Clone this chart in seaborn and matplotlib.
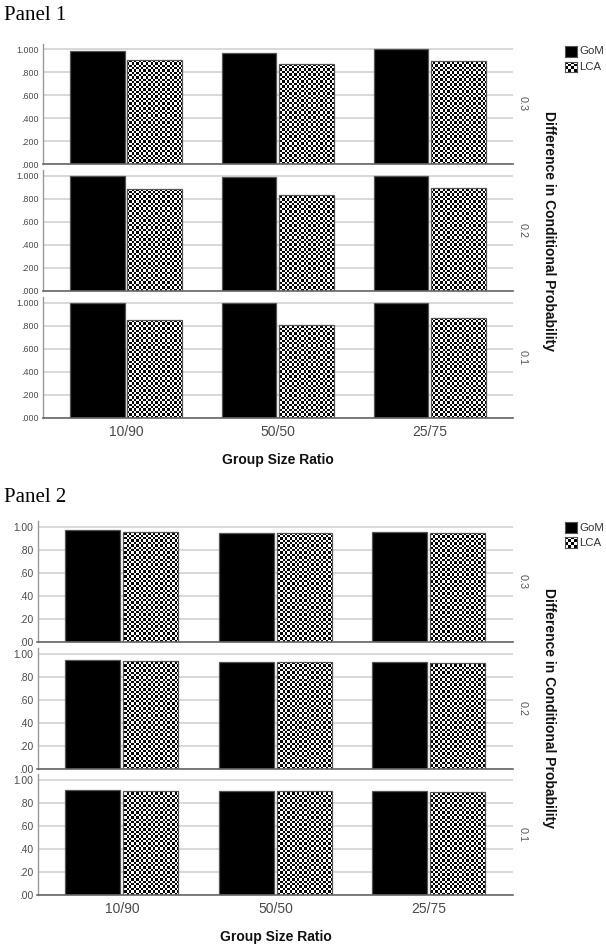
import numpy as np
import pandas as pd
import matplotlib
matplotlib.use("Agg")
import matplotlib.pyplot as plt
from matplotlib.colors import ListedColormap
import seaborn as sns

# ---------------- data ----------------
ratios = ["10/90", "50/50", "25/75"]
methods = ["GoM", "LCA"]
rows = ["0.3", "0.2", "0.1"]

# Panel 1
p1_gom_03 = [0.986, 0.971, 0.999]
p1_lca_03 = [0.904, 0.870, 0.901]
p1_gom_02 = [1.000, 0.991, 1.000]
p1_lca_02 = [0.887, 0.832, 0.890]
p1_gom_01 = [1.000, 1.000, 1.000]
p1_lca_01 = [0.853, 0.806, 0.870]

# Panel 2
p2_gom_03 = [0.971, 0.942, 0.953]
p2_lca_03 = [0.950, 0.942, 0.945]
p2_gom_02 = [0.948, 0.925, 0.925]
p2_lca_02 = [0.936, 0.925, 0.916]
p2_gom_01 = [0.913, 0.905, 0.905]
p2_lca_01 = [0.905, 0.905, 0.896]

yticks = [0.0, 0.2, 0.4, 0.6, 0.8, 1.0]
p1_yticklabels = [".000", ".200", ".400", ".600", ".800", "1.000"]
p2_yticklabels = [".00", ".20", ".40", ".60", ".80", "1.00"]

panel_titles = ["Panel 1", "Panel 2"]
xlabel = "Group Size Ratio"
facet_label = "Difference in Conditional Probability"

panels = [
    {"gom": [p1_gom_03, p1_gom_02, p1_gom_01],
     "lca": [p1_lca_03, p1_lca_02, p1_lca_01],
     "yt": p1_yticklabels},
    {"gom": [p2_gom_03, p2_gom_02, p2_gom_01],
     "lca": [p2_lca_03, p2_lca_02, p2_lca_01],
     "yt": p2_yticklabels},
]

# ---------------- style ----------------
sns.set_style("white")
plt.rcParams["font.family"] = ["Liberation Sans", "DejaVu Sans"]

W, H = 606, 947
fig = plt.figure(figsize=(W / 100, H / 100), dpi=100)

YMAX = 1.05
AX_H = 120.75  # px
checker_cmap = ListedColormap(["black", "white"])

# layout in pixels
layouts = [
    {"left": 42.5, "right": 513.3, "zeros": [164.3, 290.7, 417.7],
     "title_y": 20.0, "xlabel_y": 460.0, "ytick_size": 6.4, "ypad": 2.8,
     "leg_y": [(46.0, 56.7), (61.7, 72.3)]},
    {"left": 37.5, "right": 513.3, "zeros": [641.7, 768.7, 895.0],
     "title_y": 501.5, "xlabel_y": 936.7, "ytick_size": 7.4, "ypad": 3.3,
     "leg_y": [(522.3, 533.3), (536.7, 548.3)]},
]

XLIM = (-0.55, 2.55)


def fx(px):
    return px / W


def fy(py):
    return 1 - py / H


def add_checker(ax, patch, ncols, nrows):
    x0, x1 = XLIM
    jj, ii = np.meshgrid(np.arange(ncols), np.arange(nrows))
    board = (ii + jj) % 2
    im = ax.imshow(board, extent=(x0, x1, 0, YMAX), origin="lower",
                   cmap=checker_cmap, interpolation="nearest",
                   aspect="auto", zorder=0.9)
    im.set_clip_path(patch)


for p, lay in zip(panels, layouts):
    left, right = lay["left"], lay["right"]
    width_px = right - left
    ncols = int(round(width_px / 2.35))
    nrows = int(round(AX_H / 2.35))
    axes = []
    for r, (rowname, gvals, lvals) in enumerate(zip(rows, p["gom"], p["lca"])):
        y0 = lay["zeros"][r]
        ax = fig.add_axes([fx(left), fy(y0), width_px / W, AX_H / H])
        df = pd.DataFrame({
            "ratio": ratios * 2,
            "method": [methods[0]] * 3 + [methods[1]] * 3,
            "value": list(gvals) + list(lvals),
        })
        sns.barplot(data=df, x="ratio", y="value", hue="method",
                    order=ratios, hue_order=methods,
                    palette=["black", "white"], width=0.756, gap=0.05,
                    edgecolor="#555555", linewidth=0.9, errorbar=None,
                    legend=False, ax=ax)
        for bar in ax.containers[1]:
            bar.set_facecolor("none")
            bar.set_zorder(1)
            add_checker(ax, bar, ncols, nrows)
        ax.set_xlim(*XLIM)
        ax.set_ylim(0, YMAX)
        ax.set_xlabel("")
        ax.set_ylabel("")
        ax.set_axisbelow(True)
        ax.yaxis.grid(True, color="#d6d6d6", linewidth=1.3)
        ax.xaxis.grid(False)
        ax.set_yticks(yticks)
        ax.set_yticklabels(p["yt"])
        ax.tick_params(axis="y", length=0, pad=lay["ypad"],
                       labelsize=lay["ytick_size"], labelcolor="#4a4a4a")
        ax.tick_params(axis="x", length=0, pad=5, labelsize=10,
                       labelcolor="#4a4a4a")
        if r < 2:
            ax.tick_params(axis="x", labelbottom=False)
        for s in ["top", "right"]:
            ax.spines[s].set_visible(False)
        ax.spines["left"].set_color("#999999")
        ax.spines["left"].set_linewidth(1.0)
        ax.spines["bottom"].set_color("#666666")
        ax.spines["bottom"].set_linewidth(1.2)
        # facet row label
        fig.text(fx(522.5), fy(y0 - AX_H / 2), rowname, rotation=-90,
                 ha="center", va="center", fontsize=7.8, color="#555555")
        axes.append(ax)

    # panel title
    fig.text(fx(4), fy(lay["title_y"]), panel_titles[layouts.index(lay)],
             family=["Liberation Serif", "DejaVu Serif"], fontsize=15,
             ha="left", va="baseline", color="black")
    # x label
    fig.text(fx((left + right) / 2), fy(lay["xlabel_y"]), xlabel,
             ha="center", va="center", fontsize=10, fontweight="bold",
             color="#111111")
    # facet label
    top_px = lay["zeros"][0] - AX_H
    bot_px = lay["zeros"][2]
    fig.text(fx(549), fy((top_px + bot_px) / 2), facet_label, rotation=-90,
             ha="center", va="center", fontsize=10, fontweight="bold",
             color="#111111")
    # legend (manual)
    for k, (ly0, ly1) in enumerate(lay["leg_y"]):
        lax = fig.add_axes([fx(565), fy(ly1), 11.7 / W, (ly1 - ly0) / H])
        lax.set_xlim(0, 1)
        lax.set_ylim(0, 1)
        if k == 0:
            lax.set_facecolor("black")
        else:
            jj, ii = np.meshgrid(np.arange(4), np.arange(4))
            lax.imshow((ii + jj) % 2, extent=(0, 1, 0, 1), cmap=checker_cmap,
                       interpolation="nearest", aspect="auto")
        lax.set_xticks([])
        lax.set_yticks([])
        for s in lax.spines.values():
            s.set_color("#555555")
            s.set_linewidth(0.8)
        fig.text(fx(579.5), fy((ly0 + ly1) / 2), methods[k], ha="left",
                 va="center", fontsize=8.2, color="#333333")

fig.savefig("out.png", dpi=100, facecolor="white")
